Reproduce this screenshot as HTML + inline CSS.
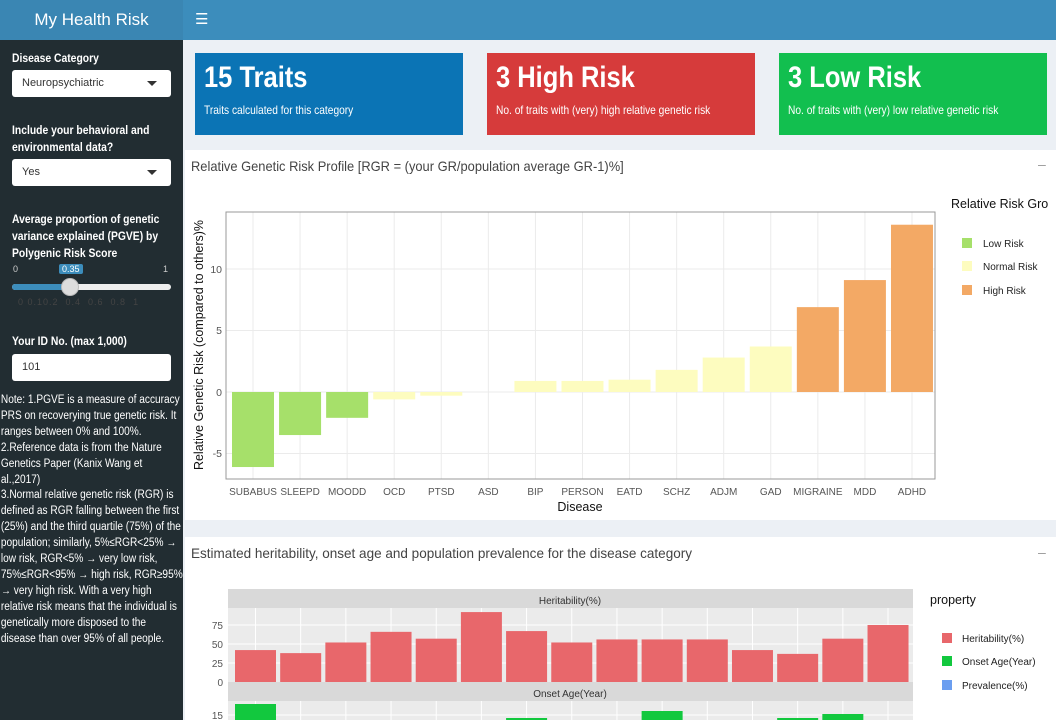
<!DOCTYPE html>
<html><head><meta charset="utf-8"><style>
*{margin:0;padding:0;box-sizing:border-box}
body{width:1056px;height:720px;overflow:hidden;background:#ecf0f5;font-family:"Liberation Sans",sans-serif;position:relative}
.a{position:absolute}
.lbl{color:#fff;font-weight:bold;font-size:11.5px;line-height:17px;left:12px;transform:scaleX(0.9);transform-origin:0 0;white-space:nowrap}
.sel{left:12px;width:159px;height:27px;background:#fff;border-radius:3px;font-size:11px;color:#333;padding:7px 10px}
.arr{position:absolute;right:14px;top:11px;border:5px solid transparent;border-top:5px solid #333}
.vb{top:53px;width:268px;height:82px;color:#fff}
.vb h1{position:absolute;left:9px;top:8px;font-size:30px;font-weight:bold;transform:scaleX(0.85);transform-origin:0 0;white-space:nowrap}
.vb p{position:absolute;left:9px;top:50px;font-size:12px;transform:scaleX(0.85);transform-origin:0 0;white-space:nowrap}
</style></head><body>
<div class="a" style="left:0;top:0;width:183px;height:40px;background:#3a86b3;color:#fff;font-size:17px;text-align:center;line-height:40px">My Health Risk</div>
<div class="a" style="left:183px;top:0;width:873px;height:40px;background:#3c8dbc;color:#fff;font-size:15px;line-height:40px;padding-left:12px">&#9776;</div>
<div class="a" style="left:0;top:40px;width:183px;height:680px;background:#222d32"></div>
<div class="a lbl" style="top:51px">Disease Category</div>
<div class="a sel" style="top:70px">Neuropsychiatric<span class="arr"></span></div>
<div class="a lbl" style="top:123px">Include your behavioral and<br>environmental data?</div>
<div class="a sel" style="top:159px">Yes<span class="arr"></span></div>
<div class="a lbl" style="top:212px">Average proportion of genetic<br>variance explained (PGVE) by<br>Polygenic Risk Score</div>
<div class="a" style="left:13px;top:264px;font-size:9px;color:#ccc">0</div>
<div class="a" style="left:59px;top:264px;font-size:9px;color:#fff;background:#3c8dbc;padding:0 3px;border-radius:2px">0.35</div>
<div class="a" style="left:163px;top:264px;font-size:9px;color:#ccc">1</div>
<div class="a" style="left:12px;top:284px;width:159px;height:6px;background:#eee;border-radius:3px"></div>
<div class="a" style="left:12px;top:284px;width:58px;height:6px;background:#3c8dbc;border-radius:3px"></div>
<div class="a" style="left:61px;top:278px;width:18px;height:18px;background:#ddd;border-radius:50%;border:1px solid #bbb"></div>
<div class="a" style="left:18px;top:297px;font-size:9px;color:#444;letter-spacing:1px">0 0.10.2 &nbsp;0.4 &nbsp;0.6 &nbsp;0.8 &nbsp;1</div>
<div class="a lbl" style="top:334px">Your ID No. (max 1,000)</div>
<div class="a sel" style="top:354px">101</div>
<div class="a" style="left:0;top:393px;width:208px;padding-left:1px;color:#fff;font-size:11.5px;line-height:15.9px;transform:scaleX(0.88);transform-origin:0 0">Note: 1.PGVE is a measure of accuracy PRS on recoverying true genetic risk. It ranges between 0% and 100%.<br>2.Reference data is from the Nature Genetics Paper (Kanix Wang et al.,2017)<br>3.Normal relative genetic risk (RGR) is defined as RGR falling between the first (25%) and the third quartile (75%) of the population; similarly, 5%≤RGR&lt;25% → low risk, RGR&lt;5% → very low risk, 75%≤RGR&lt;95% → high risk, RGR≥95% → very high risk. With a very high relative risk means that the individual is genetically more disposed to the disease than over 95% of all people.</div>

<div class="a vb" style="left:195px;background:#0b74b5"><h1>15 Traits</h1><p>Traits calculated for this category</p></div>
<div class="a vb" style="left:487px;background:#d63b3b"><h1>3 High Risk</h1><p>No. of traits with (very) high relative genetic risk</p></div>
<div class="a vb" style="left:779px;background:#12bf4f"><h1>3 Low Risk</h1><p>No. of traits with (very) low relative genetic risk</p></div>

<div class="a" style="left:185px;top:150px;width:871px;height:370px;background:#fff"></div>
<div class="a" style="left:191px;top:158px;font-size:14px;color:#444;transform:scaleX(0.92);transform-origin:0 0;white-space:nowrap">Relative Genetic Risk Profile [RGR = (your GR/population average GR-1)%]</div>
<div class="a" style="left:1038px;top:156px;font-size:14px;color:#999">–</div>
<svg class="a" style="left:0;top:0" width="1056" height="720" font-family="Liberation Sans,sans-serif">
<g stroke="#ebebeb" stroke-width="1">
<line x1="226" x2="935" y1="269" y2="269"/><line x1="226" x2="935" y1="330.5" y2="330.5"/><line x1="226" x2="935" y1="392" y2="392"/><line x1="226" x2="935" y1="453.5" y2="453.5"/>
</g>
<g id="vg" stroke="#ebebeb"></g>
<g id="bars"></g>
<rect x="226" y="212" width="709" height="267" fill="none" stroke="#999" stroke-width="1"/>
<g font-size="10.5" fill="#555" text-anchor="end"><text x="222" y="273">10</text><text x="222" y="334">5</text><text x="222" y="396">0</text><text x="222" y="457">-5</text></g>
<text transform="translate(203,345) rotate(-90)" font-size="12.5" text-anchor="middle" fill="#111">Relative Genetic Risk (compared to others)%</text>
<g id="xl" font-size="10" fill="#555" text-anchor="middle"></g>
<text x="580" y="511" font-size="12.5" text-anchor="middle" fill="#111">Disease</text>
<text x="951" y="208" font-size="12.5" fill="#111">Relative Risk Gro</text>
<rect x="962" y="238" width="10" height="10" fill="#a6e06a"/><text x="983" y="247" font-size="10" fill="#222">Low Risk</text>
<rect x="962" y="261" width="10" height="10" fill="#fdfcbf"/><text x="983" y="270" font-size="10" fill="#222">Normal Risk</text>
<rect x="962" y="285" width="10" height="10" fill="#f3a965"/><text x="983" y="294" font-size="10" fill="#222">High Risk</text>

<rect x="185" y="537" width="871" height="183" fill="#fff"/>
<text x="191" y="558" font-size="14" fill="#444" textLength="501" lengthAdjust="spacingAndGlyphs">Estimated heritability, onset age and population prevalence for the disease category</text>
<text x="1038" y="557" font-size="14" fill="#999">–</text>
<rect x="228" y="589" width="685" height="19" fill="#d9d9d9"/>
<rect x="228" y="608" width="685" height="74" fill="#ebebeb"/>
<rect x="228" y="682" width="685" height="19" fill="#d9d9d9"/>
<rect x="228" y="701" width="685" height="19" fill="#ebebeb"/>
<g stroke="#fff" stroke-width="1"><line x1="228" x2="913" y1="625" y2="625"/><line x1="228" x2="913" y1="644" y2="644"/><line x1="228" x2="913" y1="663" y2="663"/><line x1="228" x2="913" y1="715" y2="715"/></g>
<g id="vg2" stroke="#fff"></g>
<g id="hb"></g>
<text x="570" y="604" font-size="10" text-anchor="middle" fill="#333">Heritability(%)</text>
<text x="570" y="697" font-size="10" text-anchor="middle" fill="#333">Onset Age(Year)</text>
<g font-size="10" fill="#555" text-anchor="end"><text x="223" y="629">75</text><text x="223" y="648">50</text><text x="223" y="667">25</text><text x="223" y="686">0</text><text x="223" y="719">15</text></g>
<text x="930" y="604" font-size="12.5" fill="#111">property</text>
<rect x="942" y="633" width="10" height="10" fill="#e8676b"/><text x="962" y="642" font-size="10" fill="#222">Heritability(%)</text>
<rect x="942" y="656" width="10" height="10" fill="#12c83e"/><text x="962" y="665" font-size="10" fill="#222">Onset Age(Year)</text>
<rect x="942" y="680" width="10" height="10" fill="#6b9ef0"/><text x="962" y="689" font-size="10" fill="#222">Prevalence(%)</text>
</svg>
<script>
var ns="http://www.w3.org/2000/svg";
function el(p,t,a,txt){var e=document.createElementNS(ns,t);for(var k in a)e.setAttribute(k,a[k]);if(txt)e.textContent=txt;document.getElementById(p).appendChild(e);}
var names=["SUBABUS","SLEEPD","MOODD","OCD","PTSD","ASD","BIP","PERSON","EATD","SCHZ","ADJM","GAD","MIGRAINE","MDD","ADHD"];
var v=[-6.1,-3.5,-2.1,-0.6,-0.3,0,0.9,0.9,1.0,1.8,2.8,3.7,6.9,9.1,13.6];
for(var i=0;i<15;i++){var c=253+i*47.07;
el("vg","line",{x1:c,x2:c,y1:212,y2:479});
var col=i<3?"#a6e06a":(i<12?"#fdfcbf":"#f3a965");
var y0=392,y1=392-v[i]*12.3;
if(v[i]!=0)el("bars","rect",{x:c-21,y:Math.min(y0,y1),width:42,height:Math.abs(y1-y0),fill:col});
el("xl","text",{x:c,y:495},names[i]);}
var h=[42,38,52,66,57,92,67,52,56,56,56,42,37,57,75];
var on={0:704,6:718,9:711,12:718,13:714};
for(var i=0;i<15;i++){var c=255.5+i*45.18;
el("vg2","line",{x1:c,x2:c,y1:608,y2:682});el("vg2","line",{x1:c,x2:c,y1:701,y2:720});
el("hb","rect",{x:c-20.5,y:682-h[i]*0.76,width:41,height:h[i]*0.76,fill:"#e8676b"});
if(on[i])el("hb","rect",{x:c-20.5,y:on[i],width:41,height:720-on[i],fill:"#12c83e"});}
</script>
</body></html>
